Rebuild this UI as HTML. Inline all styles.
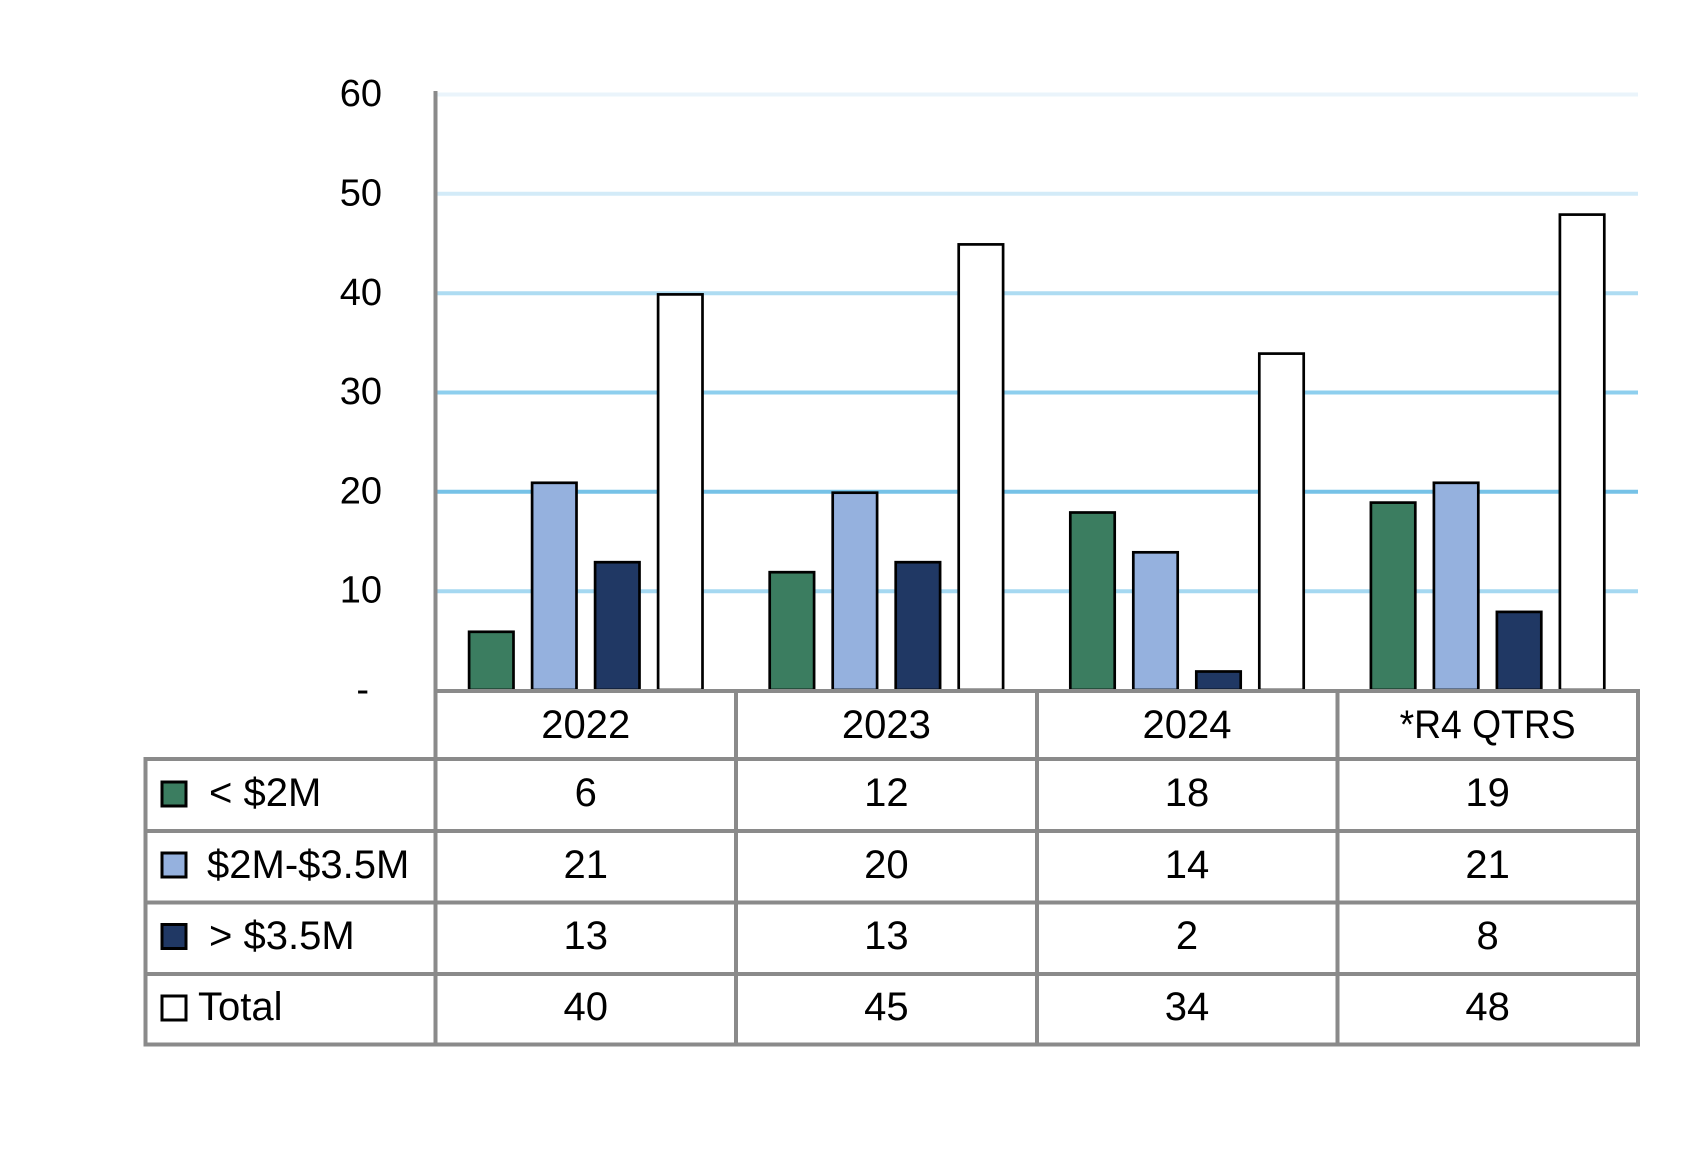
<!DOCTYPE html>
<html>
<head>
<meta charset="utf-8">
<style>
  html, body { margin: 0; padding: 0; background: #ffffff; }
  svg { display: block; }
  text { font-family: "Liberation Sans", Arial, sans-serif; fill: #000; }
</style>
</head>
<body>
<svg width="1700" height="1155" viewBox="0 0 1700 1155" xmlns="http://www.w3.org/2000/svg">
  <rect x="0" y="0" width="1700" height="1155" fill="#ffffff"/>

  <!-- gridlines -->
  <g stroke-width="4">
    <line x1="436" y1="94.5" x2="1638" y2="94.5" stroke="#eaf4fb"/>
    <line x1="436" y1="193.8" x2="1638" y2="193.8" stroke="#d3ebf8"/>
    <line x1="436" y1="293.2" x2="1638" y2="293.2" stroke="#aedcf2"/>
    <line x1="436" y1="392.5" x2="1638" y2="392.5" stroke="#8ecfee"/>
    <line x1="436" y1="491.8" x2="1638" y2="491.8" stroke="#76c2e7"/>
    <line x1="436" y1="591.2" x2="1638" y2="591.2" stroke="#a5d8f1"/>
  </g>

  <!-- y axis labels -->
  <g font-size="38" text-anchor="end">
    <text x="382" y="106">60</text>
    <text x="382" y="205.5">50</text>
    <text x="382" y="304.8">40</text>
    <text x="382" y="404">30</text>
    <text x="382" y="503.4">20</text>
    <text x="382" y="602.7">10</text>
    <text x="369" y="702">-</text>
  </g>

  <!-- bars -->
  <g stroke="#000" stroke-width="2.7">
    <!-- 2022 center 585.8 -->
    <rect x="469.1" y="631.8" width="44.4" height="58.2" fill="#3b7d60"/>
    <rect x="532.1" y="482.8" width="44.4" height="207.2" fill="#95b1de"/>
    <rect x="595.1" y="562.2" width="44.4" height="127.8" fill="#203864"/>
    <rect x="658.1" y="294.4" width="44.4" height="395.6" fill="#ffffff"/>
    <!-- 2023 center 886.4 -->
    <rect x="769.7" y="572.2" width="44.4" height="117.8" fill="#3b7d60"/>
    <rect x="832.7" y="492.7" width="44.4" height="197.3" fill="#95b1de"/>
    <rect x="895.7" y="562.2" width="44.4" height="127.8" fill="#203864"/>
    <rect x="958.7" y="244.4" width="44.4" height="445.6" fill="#ffffff"/>
    <!-- 2024 center 1187 -->
    <rect x="1070.3" y="512.5" width="44.4" height="177.5" fill="#3b7d60"/>
    <rect x="1133.3" y="552.3" width="44.4" height="137.7" fill="#95b1de"/>
    <rect x="1196.3" y="671.5" width="44.4" height="18.5" fill="#203864"/>
    <rect x="1259.3" y="353.6" width="44.4" height="336.4" fill="#ffffff"/>
    <!-- R4 center 1487.6 -->
    <rect x="1370.9" y="502.6" width="44.4" height="187.4" fill="#3b7d60"/>
    <rect x="1433.9" y="482.8" width="44.4" height="207.2" fill="#95b1de"/>
    <rect x="1496.9" y="611.9" width="44.4" height="78.1" fill="#203864"/>
    <rect x="1559.9" y="214.6" width="44.4" height="475.4" fill="#ffffff"/>
  </g>

  <!-- axis + table lines -->
  <g stroke="#8a8a8a" stroke-width="4" stroke-linecap="square">
    <line x1="435.5" y1="93" x2="435.5" y2="1044.5"/>
    <line x1="435.5" y1="691" x2="1638" y2="691"/>
    <line x1="736" y1="691" x2="736" y2="1044.5"/>
    <line x1="1037" y1="691" x2="1037" y2="1044.5"/>
    <line x1="1337.5" y1="691" x2="1337.5" y2="1044.5"/>
    <line x1="1638" y1="691" x2="1638" y2="1044.5"/>
    <line x1="145.5" y1="759" x2="145.5" y2="1044.5"/>
    <line x1="145.5" y1="759" x2="1638" y2="759"/>
    <line x1="145.5" y1="831" x2="1638" y2="831"/>
    <line x1="145.5" y1="902.5" x2="1638" y2="902.5"/>
    <line x1="145.5" y1="974" x2="1638" y2="974"/>
    <line x1="145.5" y1="1044.5" x2="1638" y2="1044.5"/>
  </g>

  <!-- header -->
  <g font-size="40" text-anchor="middle">
    <text x="585.8" y="738">2022</text>
    <text x="886.4" y="738">2023</text>
    <text x="1187" y="738">2024</text>
    <text x="1487.6" y="738" textLength="176" lengthAdjust="spacingAndGlyphs">*R4 QTRS</text>
  </g>

  <!-- legend swatches -->
  <g stroke="#000" stroke-width="3">
    <rect x="162" y="782" width="24" height="24" fill="#3b7d60"/>
    <rect x="162" y="853" width="24" height="24" fill="#95b1de"/>
    <rect x="162" y="924.5" width="24" height="24" fill="#203864"/>
    <rect x="162" y="996" width="24" height="24" fill="#ffffff"/>
  </g>

  <!-- legend labels -->
  <g font-size="40">
    <text x="209" y="806">&lt; $2M</text>
    <text x="207" y="878">$2M-$3.5M</text>
    <text x="209" y="949">&gt; $3.5M</text>
    <text x="198" y="1020">Total</text>
  </g>

  <!-- data values -->
  <g font-size="40" text-anchor="middle">
    <text x="585.8" y="806">6</text>
    <text x="886.4" y="806">12</text>
    <text x="1187" y="806">18</text>
    <text x="1487.6" y="806">19</text>

    <text x="585.8" y="878">21</text>
    <text x="886.4" y="878">20</text>
    <text x="1187" y="878">14</text>
    <text x="1487.6" y="878">21</text>

    <text x="585.8" y="949">13</text>
    <text x="886.4" y="949">13</text>
    <text x="1187" y="949">2</text>
    <text x="1487.6" y="949">8</text>

    <text x="585.8" y="1020">40</text>
    <text x="886.4" y="1020">45</text>
    <text x="1187" y="1020">34</text>
    <text x="1487.6" y="1020">48</text>
  </g>
</svg>
</body>
</html>
